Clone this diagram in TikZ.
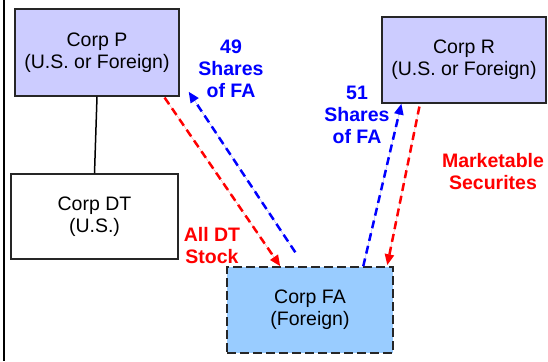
\documentclass[tikz,border=0pt]{standalone}
\usepackage{fontspec}
\setmainfont{Liberation Sans}
\usetikzlibrary{arrows.meta,calc}
\definecolor{lav}{HTML}{CCCCFF}
\definecolor{fablue}{HTML}{99CCFF}
\definecolor{ablue}{HTML}{0000FF}
\definecolor{ared}{HTML}{FF0000}
\begin{document}
\begin{tikzpicture}[x=1pt,y=-1pt,
  box/.style={draw=black!85,line width=1.2pt,align=center,inner sep=0pt,
    font=\fontsize{19.5}{22}\selectfont},
  lbl/.style={align=center,inner sep=0pt,font=\fontsize{19.5}{22}\selectfont\bfseries},
  flow/.style={line width=2.5pt,dash pattern=on 8pt off 5pt,
    -{Triangle[length=11pt,width=9pt]}}]
\useasboundingbox (0,0) rectangle (548,361);
\draw[line width=2.2pt] (4,0) -- (4,361);
\node[box,fill=lav,minimum width=164pt,minimum height=87pt] (P) at (97,52.5) {Corp P\\(U.S. or Foreign)};
\node[box,fill=white,minimum width=167pt,minimum height=85pt] (DT) at (94.5,216.5) {Corp DT\\(U.S.)};
\node[box,fill=lav,minimum width=164pt,minimum height=86pt] (R) at (464,60) {Corp R\\(U.S. or Foreign)};
\node[box,fill=fablue,dash pattern=on 9pt off 4pt,line width=1.5pt,minimum width=166pt,minimum height=86pt] (FA) at (310,310) {Corp FA\\(Foreign)};
\draw[line width=1.5pt] (P.south) -- (DT.north);
\coordinate (b1s) at ($(FA.north west)+(69,-14)$);
\coordinate (b1e) at ($(P.south east)+(9,-5)$);
\draw[flow,draw=ared,fill=ared] ($(P.south east)+(-15,1)$) -- ($(FA.north west)+(54,0)$);
\draw[flow,draw=ablue,fill=ablue] (b1s) -- (b1e);
\draw[flow,draw=ablue,fill=ablue] ($(FA.north west)+(137,0)$) -- ($(R.south west)+(20,0)$);
\draw[flow,draw=ared,fill=ared] ($(R.south west)+(38,3)$) -- ($(FA.north west)+(161,-1)$);
\node[lbl,text=ablue] (l49) at (231,69) {49\\Shares\\of FA};
\node[lbl,text=ablue] (l51) at (357,115) {51\\Shares\\of FA};
\node[lbl,text=ared] (lms) at (493,171.5) {Marketable\\Securites};
\node[lbl,text=ared] (ldt) at (212,246) {All DT\\Stock};
\end{tikzpicture}
\end{document}
